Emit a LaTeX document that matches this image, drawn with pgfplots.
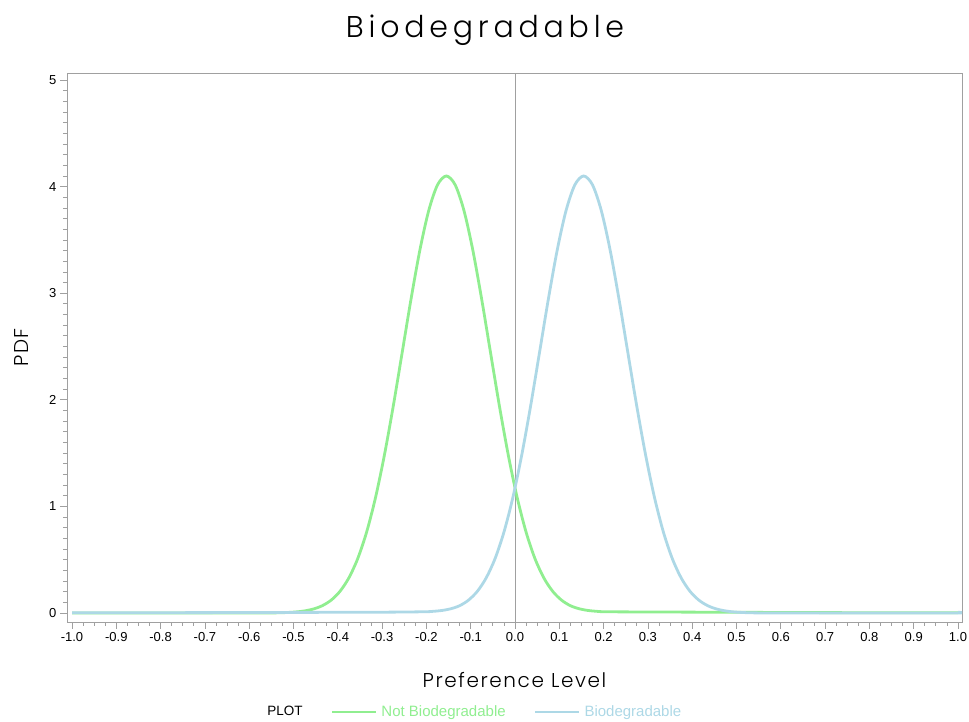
\documentclass[border=0pt]{standalone}
\usepackage{pgfplots}
\pgfplotsset{compat=1.18}
\usepackage{pgfplotstable}
\usepackage{fontspec}
\setmainfont{Liberation Sans}
\newfontfamily\titlefont[LetterSpace=16]{Poppins Light}
\newfontfamily\labelfont[LetterSpace=8]{Poppins Light}
\definecolor{lgreen}{RGB}{144,238,144}
\definecolor{lblue}{RGB}{173,216,230}
\definecolor{axgray}{RGB}{160,160,160}

\pgfplotstableread{
x y
-1.000 0.000
-0.800 0.000
-0.600 0.000
-0.535 0.002
-0.515 0.005
-0.495 0.010
-0.475 0.020
-0.455 0.038
-0.435 0.069
-0.415 0.121
-0.395 0.204
-0.375 0.330
-0.355 0.511
-0.335 0.759
-0.315 1.081
-0.295 1.478
-0.275 1.937
-0.255 2.436
-0.235 2.938
-0.215 3.399
-0.195 3.772
-0.175 4.016
-0.155 4.100
-0.135 4.016
-0.115 3.772
-0.095 3.399
-0.075 2.938
-0.055 2.436
-0.035 1.937
-0.015 1.478
0.005 1.081
0.025 0.759
0.045 0.511
0.065 0.330
0.085 0.204
0.105 0.121
0.125 0.069
0.145 0.040
0.165 0.024
0.185 0.016
0.205 0.012
0.300 0.010
0.500 0.007
0.700 0.004
1.000 0.002
}\greendata

\pgfplotstableread{
x y
-1.000 0.002
-0.700 0.004
-0.500 0.006
-0.300 0.008
-0.205 0.012
-0.185 0.016
-0.165 0.024
-0.145 0.040
-0.125 0.069
-0.105 0.121
-0.085 0.204
-0.065 0.330
-0.045 0.511
-0.025 0.759
-0.005 1.081
0.015 1.478
0.035 1.937
0.055 2.436
0.075 2.938
0.095 3.399
0.115 3.772
0.135 4.016
0.155 4.100
0.175 4.016
0.195 3.772
0.215 3.399
0.235 2.938
0.255 2.436
0.275 1.937
0.295 1.478
0.315 1.081
0.335 0.759
0.355 0.511
0.375 0.330
0.395 0.204
0.415 0.121
0.435 0.069
0.455 0.038
0.475 0.020
0.495 0.010
0.515 0.005
0.535 0.002
0.600 0.000
0.800 0.000
0.995 0.000
1.000 0.008
}\bluedata

\begin{document}
\begin{tikzpicture}
\useasboundingbox (0,0) rectangle (969pt,722pt);
\node[font=\titlefont\fontsize{30}{34}\selectfont] at (485pt,692pt) {Biodegradable};
\begin{axis}[
  at={(67pt,100pt)}, anchor=south west,
  scale only axis, width=895pt, height=549pt,
  xmin=-1.0113, xmax=1.009,
  ymin=-0.084, ymax=5.066,
  axis line style={axgray},
  every tick/.style={axgray, line width=0.8pt},
  tick align=outside,
  tick pos=left,
  major tick length=7pt,
  minor tick length=4pt,
  xtick={-1,-0.9,-0.8,-0.7,-0.6,-0.5,-0.4,-0.3,-0.2,-0.1,0,0.1,0.2,0.3,0.4,0.5,0.6,0.7,0.8,0.9,1},
  xticklabels={-1.0,-0.9,-0.8,-0.7,-0.6,-0.5,-0.4,-0.3,-0.2,-0.1,0.0,0.1,0.2,0.3,0.4,0.5,0.6,0.7,0.8,0.9,1.0},
  minor x tick num=3,
  ytick={0,1,2,3,4,5},
  yticklabels={0,1,2,3,4,5},
  minor y tick num=9,
  ticklabel style={font=\fontsize{13}{15}\selectfont, text=black},
  xlabel={Preference Level},
  ylabel={PDF},
  xlabel style={at={(rel axis cs:0.5,-0.1056)}, anchor=center, font=\labelfont\fontsize{20}{23}\selectfont},
  ylabel style={at={(rel axis cs:-0.0503,0.5)}, anchor=center, font=\labelfont\fontsize{20}{23}\selectfont},
  legend style={at={(rel axis cs:0.454,-0.164)}, anchor=center, draw=none, fill=none,
    font=\fontsize{13.5}{15}\selectfont,
    /tikz/every even column/.append style={column sep=26pt},
    /tikz/every odd column/.append style={column sep=2pt}},
  legend columns=-1,
  legend image code/.code={\draw[#1] (0pt,0pt) -- (44pt,0pt);},
]
\addlegendimage{empty legend}
\addlegendentry{PLOT}
\addplot[axgray, line width=0.9pt, forget plot] coordinates {(0,-0.084) (0,5.066)};
\addplot[lgreen, line width=2.8pt, smooth] table[x=x,y=y] {\greendata};
\addlegendentry{\fontsize{15}{17}\selectfont\textcolor{lgreen}{Not Biodegradable}}
\addplot[lblue, line width=2.8pt, smooth] table[x=x,y=y] {\bluedata};
\addlegendentry{\fontsize{15}{17}\selectfont\textcolor{lblue}{Biodegradable}}
\end{axis}
\end{tikzpicture}
\end{document}
